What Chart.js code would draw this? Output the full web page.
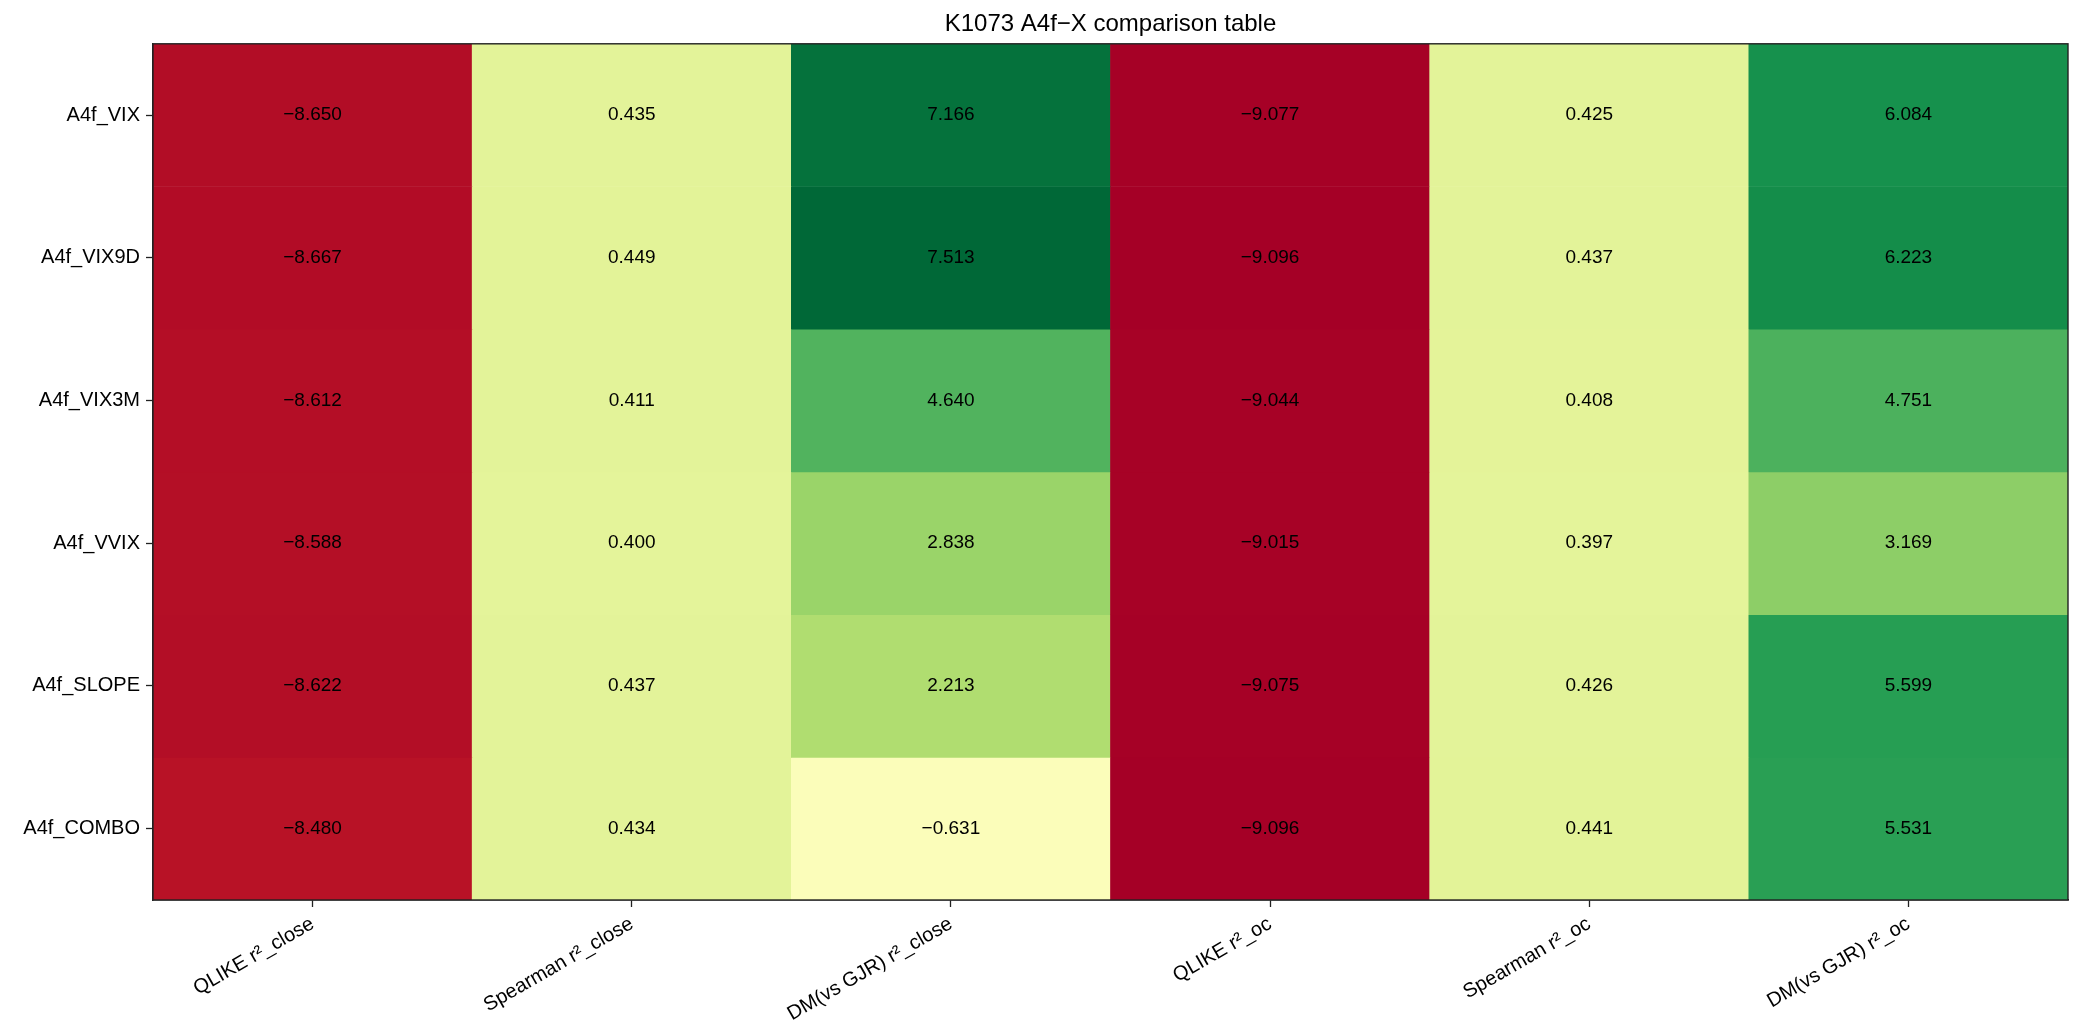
<!DOCTYPE html>
<html>
<head>
<meta charset="utf-8">
<script src="https://cdn.jsdelivr.net/npm/chart.js@4.4.1/dist/chart.umd.min.js"></script>
<style>
    body { margin: 0; background: #fff; }
</style>
</head>
<body>
<canvas id="heat" width="2084" height="1034"></canvas>
<script>
// table content
const rowLabels = ['A4f_VIX', 'A4f_VIX9D', 'A4f_VIX3M', 'A4f_VVIX', 'A4f_SLOPE', 'A4f_COMBO'];
const colLabels = ['QLIKE r²_close', 'Spearman r²_close', 'DM(vs GJR) r²_close',
                   'QLIKE r²_oc', 'Spearman r²_oc', 'DM(vs GJR) r²_oc'];

const vixRow   = [-8.650, 0.435, 7.166, -9.077, 0.425, 6.084];
const vix9dRow = [-8.667, 0.449, 7.513, -9.096, 0.437, 6.223];
const vix3mRow = [-8.612, 0.411, 4.640, -9.044, 0.408, 4.751];
const vvixRow  = [-8.588, 0.400, 2.838, -9.015, 0.397, 3.169];
const slopeRow = [-8.622, 0.437, 2.213, -9.075, 0.426, 5.599];
const comboRow = [-8.480, 0.434, -0.631, -9.096, 0.441, 5.531];

const values = [vixRow, vix9dRow, vix3mRow, vvixRow, slopeRow, comboRow];

// RdYlGn colormap stops
const rdYlGn = ['#a50026', '#d73027', '#f46d43', '#fdae61', '#fee08b', '#ffffbf',
                '#d9ef8b', '#a6d96a', '#66bd63', '#1a9850', '#006837'];

const hexToRgb = h => [1, 3, 5].map(i => parseInt(h.substr(i, 2), 16));

const allVals = values.flat();
const vmin = Math.min(...allVals);
const vmax = Math.max(...allVals);

const colorFor = v => {
    let t = (v - vmin) / (vmax - vmin);
    t = Math.max(0, Math.min(1, t));
    const pos = t * (rdYlGn.length - 1);
    const i = Math.min(Math.floor(pos), rdYlGn.length - 2);
    const f = pos - i;
    const a = hexToRgb(rdYlGn[i]);
    const b = hexToRgb(rdYlGn[i + 1]);
    const c = a.map((x, k) => Math.round(x + (b[k] - x) * f));
    return 'rgb(' + c.join(',') + ')';
};

const fmt = v => v.toFixed(3).replace('-', '\u2212');

// one floating-bar dataset per row
const datasets = rowLabels.map((name, r) => ({
    label: name,
    data: colLabels.map(() => [r, r + 1]),
    backgroundColor: values[r].map(colorFor),
    borderWidth: 0,
    grouped: false,
    barPercentage: 1,
    categoryPercentage: 1
}));

// writes the numbers in each cell
const cellText = {
    id: 'cellText',
    afterDatasetsDraw(chart) {
        const ctx = chart.ctx;
        ctx.save();
        ctx.font = '19px "Liberation Sans", Arial, sans-serif';
        ctx.fillStyle = '#000';
        ctx.textAlign = 'center';
        ctx.textBaseline = 'middle';
        chart.data.datasets.forEach((ds, r) => {
            chart.getDatasetMeta(r).data.forEach((bar, c) => {
                ctx.fillText(fmt(values[r][c]), bar.x, (bar.y + bar.base) / 2);
            });
        });
        ctx.restore();
    }
};

// black frame round the plot
const frame = {
    id: 'frame',
    afterDraw(chart) {
        const a = chart.chartArea;
        const ctx = chart.ctx;
        ctx.save();
        ctx.strokeStyle = '#222';
        ctx.lineWidth = 1.4;
        ctx.strokeRect(a.left, a.top, a.right - a.left, a.bottom - a.top);
        ctx.restore();
    }
};

Chart.defaults.font.family = '"Liberation Sans", Arial, sans-serif';
Chart.defaults.color = '#000';

new Chart(document.getElementById('heat').getContext('2d'), {
    type: 'bar',
    data: { labels: colLabels, datasets: datasets },
    options: {
        responsive: false,
        animation: false,
        layout: { padding: { left: 0, right: 16, top: 0, bottom: 0 } },
        plugins: {
            legend: { display: false },
            tooltip: { enabled: false },
            title: {
                display: true,
                fullSize: false,
                text: 'K1073 A4f\u2212X comparison table',
                font: { size: 24, weight: 'normal' },
                padding: { top: 10, bottom: 5 },
                color: '#000'
            }
        },
        scales: {
            x: {
                type: 'category',
                offset: true,
                grid: { offset: false, drawOnChartArea: false, tickLength: 7, color: '#222', tickWidth: 1.3 },
                border: { display: true, color: '#222', width: 1.4 },
                ticks: { maxRotation: 30, minRotation: 30, autoSkip: false, padding: 5, font: { size: 20 } },
                afterFit: s => { s.height = 134; }
            },
            y: {
                type: 'linear',
                min: 0,
                max: 6,
                reverse: true,
                afterBuildTicks: s => { s.ticks = rowLabels.map((_, i) => ({ value: i + 0.5 })); },
                grid: { drawOnChartArea: false, tickLength: 7, color: '#222', tickWidth: 1.3 },
                border: { display: true, color: '#222', width: 1.4 },
                ticks: {
                    autoSkip: false,
                    padding: 6,
                    font: { size: 20 },
                    callback: (v, i) => rowLabels[i]
                },
                afterFit: s => { s.width = 153; }
            }
        }
    },
    plugins: [cellText, frame]
});
</script>
</body>
</html>
